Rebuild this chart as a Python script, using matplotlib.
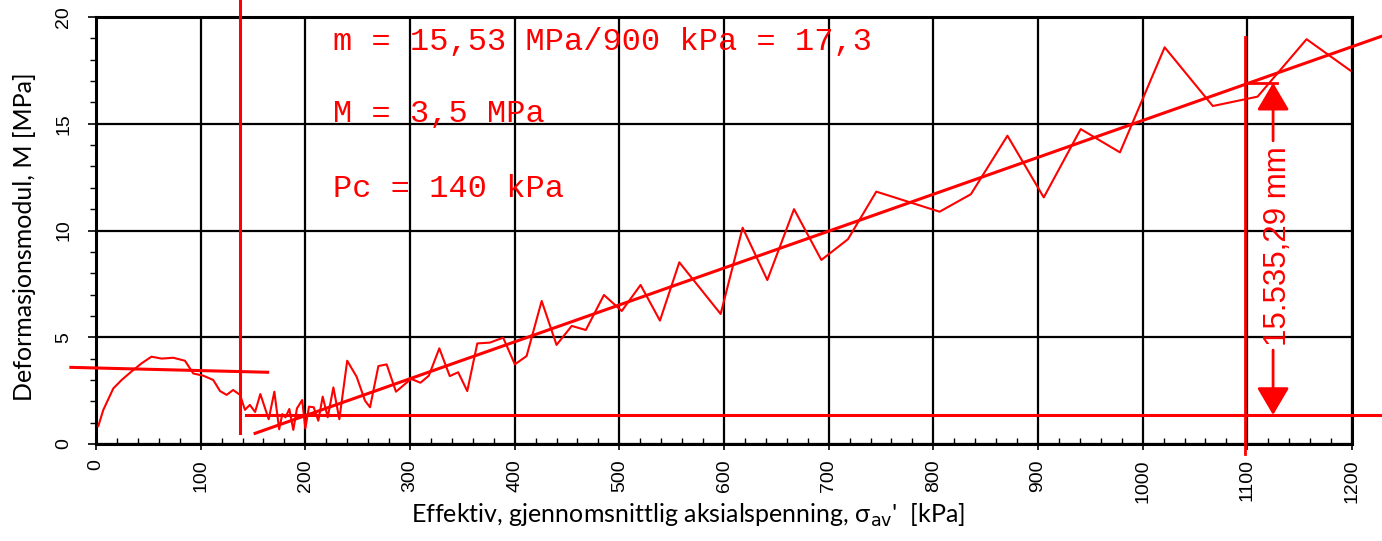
import matplotlib.pyplot as plt
import numpy as np

# measured M vs effective mean axial stress
sigma = [2.2, 7, 16.5, 24.5, 34, 43.6, 53, 62.7, 73.8, 85, 93, 102.5, 112, 118.5, 124.8,
         131, 137.6, 142.3, 147, 152, 157, 165, 170.4, 175, 178, 181, 184.7, 188.5, 192,
         197, 200, 203.5, 208, 212.4, 216.6, 221.4, 226.8, 232.5, 240, 249, 257, 261.8,
         269.8, 277.7, 286.6, 301, 310, 318, 328, 338, 346, 354.7, 364.3, 376.4, 389,
         400.2, 411.4, 425.8, 440, 454.5, 468, 485.3, 502.3, 520.3, 538.8, 557.3, 596.8,
         617.8, 641.4, 666.9, 693, 718.4, 745.5, 806, 835.9, 870.8, 905.5, 940.8, 978.3,
         1021, 1067, 1109.8, 1156.6, 1198.5]
modul = [0.84, 1.6, 2.6, 3.0, 3.4, 3.78, 4.09, 4.0, 4.04, 3.9, 3.3, 3.2, 3.0, 2.48, 2.3,
         2.53, 2.3, 1.6, 1.83, 1.5, 2.34, 1.16, 2.45, 0.69, 1.4, 1.25, 1.64, 0.66, 1.67,
         2.06, 0.73, 1.75, 1.72, 1.09, 2.22, 1.25, 2.65, 1.16, 3.9, 3.15, 2.03, 1.72,
         3.65, 3.73, 2.45, 3.05, 2.87, 3.2, 4.48, 3.18, 3.36, 2.48, 4.71, 4.75, 4.98,
         3.73, 4.12, 6.7, 4.64, 5.53, 5.34, 6.98, 6.23, 7.45, 5.78, 8.51, 6.09,
         10.13, 7.68, 11.0, 8.62, 9.59, 11.82, 10.88, 11.7, 14.44, 11.55, 14.75, 13.66,
         18.58, 15.83, 16.27, 18.96, 17.49]

# construction lines
oc_x = [-24, 164]          # overkonsolidert del
oc_y = [3.59, 3.36]
nc_x = [152, 1240]         # normalkonsolidert del, m = 17,3
nc_y = [0.5, 0.5 + 0.01728 * (1240 - 152)]
pc = 137.6
M_level = 1.36
ref_x = 1098
top_level = 16.92

red = '#ff0000'

fig = plt.figure(figsize=(13.82, 5.41), dpi=100)
ax = fig.add_axes([96 / 1382, 97 / 541, 1256 / 1382, 427 / 541])

ax.plot(sigma, modul, color=red, lw=1.5, zorder=5)
ax.plot(oc_x, oc_y, color=red, lw=2.2, clip_on=False, zorder=5)
ax.plot(nc_x, nc_y, color=red, lw=2.2, clip_on=False, zorder=5)
ax.plot([pc, pc], [0.5, 21], color=red, lw=2.2, clip_on=False, zorder=5)
ax.plot([143, 1240], [M_level, M_level], color=red, lw=2.2, clip_on=False, zorder=5)
ax.plot([ref_x, ref_x], [-0.45, 19.05], color=red, lw=2, clip_on=False, zorder=5)
ax.plot([ref_x, 1128], [top_level, top_level], color=red, lw=2, zorder=5)

# dimension arrow
ax_x = 1124.6
ap = dict(arrowstyle='-|>,head_length=0.85,head_width=0.5', color=red, lw=2,
          shrinkA=0, shrinkB=0, mutation_scale=20)
ax.annotate('', xy=(ax_x, top_level), xytext=(ax_x, 14.2), arrowprops=ap, zorder=6)
ax.annotate('', xy=(ax_x, M_level), xytext=(ax_x, 4.4), arrowprops=ap, zorder=6)
ax.text(1129.5, 9.29, '15.535,29 mm', rotation=90, ha='center', va='center',
        color=red, fontsize=22.5, family='Liberation Sans', zorder=6)

mono = dict(color=red, fontsize=23, family='Liberation Mono', va='baseline', ha='left', zorder=6)
ax.text(226, 18.45, 'm = 15,53 MPa/900 kPa = 17,3', **mono)
ax.text(226, 15.08, 'M = 3,5 MPa', **mono)
ax.text(226, 11.58, 'Pc = 140 kPa', **mono)

ax.set_xlim(0, 1200)
ax.set_ylim(0, 20)
ax.set_xticks(np.arange(0, 1201, 100))
ax.set_yticks(np.arange(0, 21, 5))
ax.set_xticks(np.arange(0, 1201, 20), minor=True)
ax.set_yticks(np.arange(0, 21, 1), minor=True)
ax.grid(True, which='major', color='black', lw=1.6)
ax.set_axisbelow(True)
for s in ax.spines.values():
    s.set_linewidth(2.2)

ax.tick_params(axis='x', which='major', direction='inout', length=8, width=1.2, pad=7,
               labelsize=14, labelrotation=90)
ax.tick_params(axis='x', which='minor', direction='in', length=4, width=1)
ax.tick_params(axis='y', which='major', direction='out', length=6, width=1.2, pad=11,
               labelsize=14)
ax.tick_params(axis='y', which='minor', direction='out', length=4, width=1)
for lab in ax.get_xticklabels() + ax.get_yticklabels():
    lab.set_family('Liberation Sans')
for lab in ax.get_yticklabels():
    lab.set_rotation(90)
    lab.set_va('center')

fig.text(688 / 1382, 1 - 515 / 541,
         "Effektiv, gjennomsnittlig aksialspenning, σ$_{\\rm av}$'  [kPa]",
         ha='center', va='center', fontsize=18, family='Lato')
fig.text(25 / 1382, 1 - 237 / 541, 'Deformasjonsmodul, M [MPa]', rotation=90,
         ha='center', va='center', fontsize=18, family='Lato')
# start of the next chart below, cut off by the image edge
fig.text(70 / 1382, 1 - 550 / 541, '0', rotation=90, ha='center', va='center',
         fontsize=14, family='Liberation Sans')

fig.savefig('out.png', dpi=100)
